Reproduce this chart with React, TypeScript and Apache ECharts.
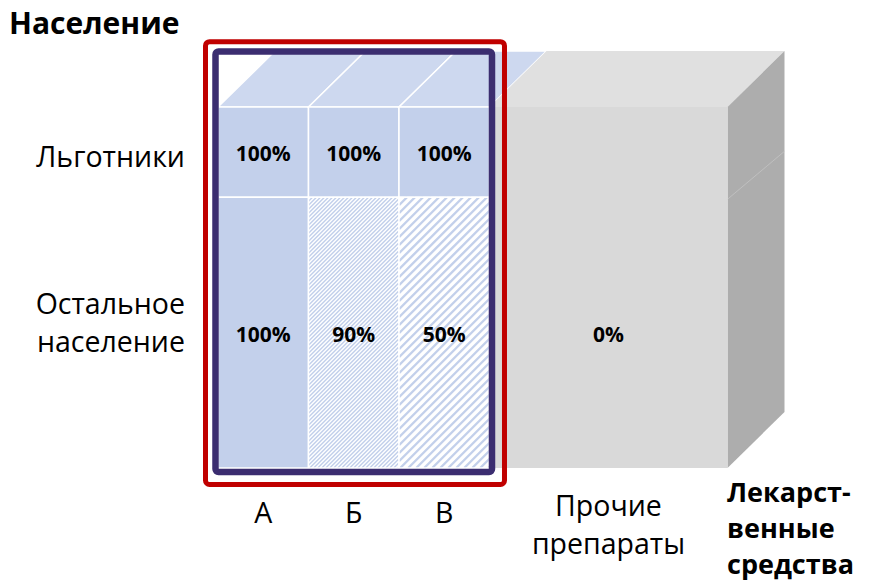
import React, { useEffect, useRef } from 'react';
import * as echarts from 'echarts';

// Drug groups along the horizontal axis and their relative widths
const columns = ['А', 'Б', 'В', 'Прочие\nпрепараты'];
const columnWidths = [1, 1, 1, 2.63];
// Population groups, top to bottom, and their relative heights
const rows = ['Льготники', 'Остальное\nнаселение'];
const rowHeights = [1, 3];
// Reimbursed share of the cost, %, per column
const benefitShare = [100, 100, 100, null];
const generalShare = [100, 90, 50, 0];
// Columns inside the highlighted group (А, Б, В)
const framedColumns = 3;

const yTitle = 'Население';
const xTitle = 'Лекарст-\nвенные\nсредства';

const FONT = '"Open Sans"';
const DX = 57;
const DY = -56;
const BLUE = '#c3d0eb';
const BLUE_TOP = '#cdd8ef';

const colEdges = columnWidths.reduce<number[]>((acc, w) => { acc.push(acc[acc.length - 1] + w); return acc; }, [0]);
const rowEdges = rowHeights.reduce<number[]>((acc, h) => { acc.push(acc[acc.length - 1] + h); return acc; }, [0]);
const totalX = colEdges[colEdges.length - 1];
const totalY = rowEdges[rowEdges.length - 1];

// cell: [x0, x1, y0, y1, labelY, value]
const cells: number[][] = [];
columns.forEach((_, i) => {
  const x0 = colEdges[i];
  const x1 = colEdges[i + 1];
  const top = benefitShare[i];
  const rest = generalShare[i];
  if (top === null) {
    // one merged block through both population groups
    cells.push([x0, x1, rowEdges[0], rowEdges[2], (rowEdges[1] + rowEdges[2]) / 2, rest]);
  } else {
    cells.push([x0, x1, rowEdges[0], rowEdges[1], (rowEdges[0] + rowEdges[1]) / 2, top]);
    cells.push([x0, x1, rowEdges[1], rowEdges[2], (rowEdges[1] + rowEdges[2]) / 2, rest]);
  }
});

function stripeStyle(v: number) {
  if (v >= 100 || v <= 0) return null;
  return v >= 75 ? { period: 4, width: 1.45 } : { period: 8, width: 2.4 };
}

function stripePath(L: number, T: number, R: number, B: number, period: number) {
  // lines x + y = c, clipped to the rectangle
  let d = '';
  for (let c = L + T; c <= R + B; c += period) {
    const pts: number[][] = [];
    const cand = [[L, c - L], [R, c - R], [c - T, T], [c - B, B]];
    for (const [x, y] of cand) {
      if (x >= L - 1e-6 && x <= R + 1e-6 && y >= T - 1e-6 && y <= B + 1e-6) pts.push([x, y]);
    }
    if (pts.length >= 2) {
      pts.sort((a, b) => a[0] - b[0]);
      const a = pts[0];
      const b = pts[pts.length - 1];
      if (Math.abs(a[0] - b[0]) > 0.1) d += `M${a[0].toFixed(2)} ${a[1].toFixed(2)}L${b[0].toFixed(2)} ${b[1].toFixed(2)}`;
    }
  }
  return d;
}

export default function App() {
  const ref = useRef<HTMLDivElement>(null);
  useEffect(() => {
    if (!ref.current) return;
    const chart = echarts.init(ref.current, undefined, { renderer: 'svg' });
    const option: any = {
      animation: false,
      grid: { left: 218, top: 107, width: 509.5, height: 361 },
      xAxis: { type: 'value', min: 0, max: totalX, show: false },
      yAxis: { type: 'value', min: 0, max: totalY, inverse: true, show: false },
      graphic: [
        {
          type: 'text', left: 9, top: 7,
          style: { text: yTitle, fontFamily: FONT, fontWeight: 'bold', fontSize: 30, fill: '#000' },
        },
        {
          type: 'text', left: 727, top: 473,
          style: { text: xTitle, fontFamily: FONT, fontWeight: 'bold', fontSize: 27, lineHeight: 36, fill: '#000' },
        },
      ],
      series: [
        {
          type: 'custom',
          clip: false,
          data: cells,
          renderItem: (params: any, api: any) => {
            const x0 = api.value(0), x1 = api.value(1), y0 = api.value(2), y1 = api.value(3);
            const ly = api.value(4), v = api.value(5);
            const tl = api.coord([x0, y0]);
            const br = api.coord([x1, y1]);
            const L = tl[0], T = tl[1], R = br[0], B = br[1];
            const gray = v <= 0;
            const children: any[] = [];
            if (y0 === 0) {
              children.push({
                type: 'polygon',
                shape: { points: [[L, T], [R, T], [R + DX, T + DY], [L + DX, T + DY]] },
                style: gray ? { fill: '#e0e0e0' } : { fill: BLUE_TOP, stroke: '#fff', lineWidth: 1.5 },
              });
            }
            if (Math.abs(x1 - totalX) < 1e-6) {
              children.push({
                type: 'polygon',
                shape: { points: [[R, T], [R + DX, T + DY], [R + DX, B + DY], [R, B]] },
                style: { fill: '#adadad' },
              });
              // faint seam where the population groups meet
              const yb = api.coord([x1, rowEdges[1]])[1];
              children.push({
                type: 'line',
                shape: { x1: R, y1: yb + 2, x2: R + DX, y2: yb + DY + 10 },
                style: { stroke: '#c4c4c4', lineWidth: 0.8 },
              });
            }
            const st = stripeStyle(v);
            children.push({
              type: 'rect',
              shape: { x: L, y: T, width: R - L, height: B - T },
              style: gray ? { fill: '#d9d9d9' } : { fill: st ? '#ffffff' : BLUE },
            });
            if (st) {
              children.push({
                type: 'path',
                shape: { pathData: stripePath(L, T, R, B, st.period) },
                style: { fill: 'none', stroke: BLUE, lineWidth: st.width },
              });
            }
            if (!gray) {
              children.push({
                type: 'rect',
                shape: { x: L, y: T, width: R - L, height: B - T },
                style: { fill: 'none', stroke: '#fff', lineWidth: 1.5 },
              });
            }
            const cy = api.coord([x0, ly])[1];
            children.push({
              type: 'text',
              style: {
                text: v + '%', x: (L + R) / 2, y: cy + 1, align: 'center', verticalAlign: 'middle',
                fontFamily: FONT, fontWeight: 'bold', fontSize: 21, fill: '#000',
              },
            });
            return { type: 'group', children };
          },
        },
        {
          // highlighted group frames
          type: 'custom',
          clip: false,
          data: [[0, colEdges[framedColumns]]],
          renderItem: (params: any, api: any) => {
            const tl = api.coord([api.value(0), 0]);
            const br = api.coord([api.value(1), totalY]);
            const L = tl[0], T = tl[1] + DY, R = br[0], B = br[1];
            return {
              type: 'group',
              children: [
                {
                  type: 'rect',
                  shape: { x: L - 2.5, y: T + 0.5, width: R - L + 5, height: B - T + 3.5, r: 3 },
                  style: { fill: 'none', stroke: '#3b2d70', lineWidth: 6.5 },
                },
                {
                  type: 'rect',
                  shape: { x: L - 12.5, y: T - 9.3, width: R - L + 27.5, height: B - T + 25.8, r: 4 },
                  style: { fill: 'none', stroke: '#c00000', lineWidth: 5 },
                },
              ],
            };
          },
        },
        {
          // population group labels
          type: 'custom',
          clip: false,
          data: rows.map((_, i) => [(rowEdges[i] + rowEdges[i + 1]) / 2]),
          renderItem: (params: any, api: any) => {
            const p = api.coord([0, api.value(0)]);
            const text = rows[params.dataIndex];
            const multi = text.indexOf('\n') >= 0;
            return {
              type: 'text',
              style: {
                text, x: p[0] - 33, y: p[1] + (multi ? -11 : 4), align: 'right', verticalAlign: 'middle',
                fontFamily: FONT, fontSize: 28.5, lineHeight: 38, fill: '#000',
              },
            };
          },
        },
        {
          // drug group labels
          type: 'custom',
          clip: false,
          data: columns.map((_, i) => [(colEdges[i] + colEdges[i + 1]) / 2]),
          renderItem: (params: any, api: any) => {
            const p = api.coord([api.value(0), totalY]);
            const text = columns[params.dataIndex];
            const multi = text.indexOf('\n') >= 0;
            return {
              type: 'text',
              style: {
                text, x: p[0], y: p[1] + (multi ? 18 : 25), align: 'center', verticalAlign: 'top',
                fontFamily: FONT, fontSize: 28.5, lineHeight: 38, fill: '#000',
              },
            };
          },
        },
      ],
    };
    chart.setOption(option);
    return () => chart.dispose();
  }, []);
  return <div ref={ref} style={{ position: 'absolute', left: 0, top: 0, width: 874, height: 581 }} />;
}
